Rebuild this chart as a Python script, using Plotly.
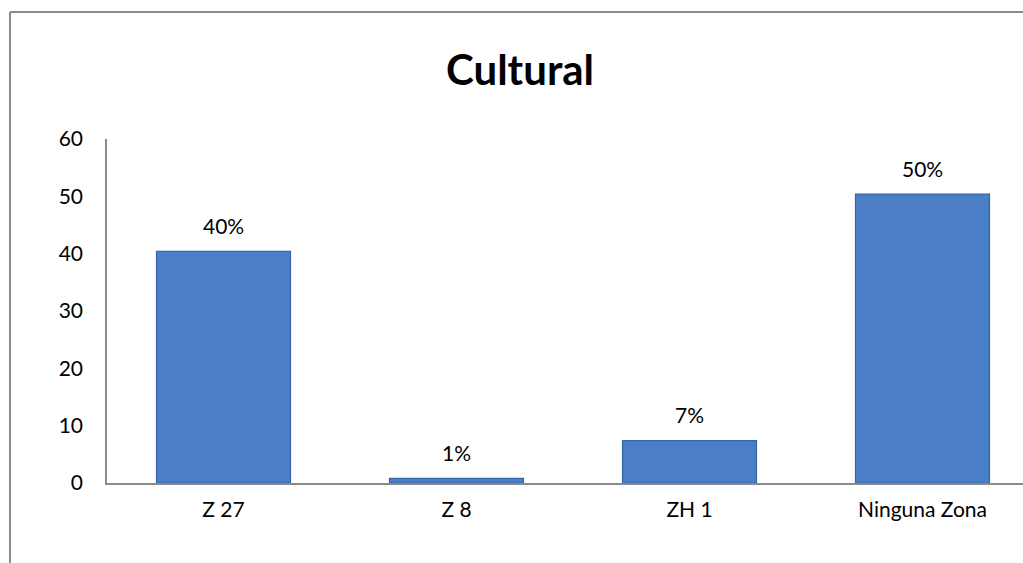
import plotly.graph_objects as go

categories = ["Z 27", "Z 8", "ZH 1", "Ninguna Zona"]
values = [40.4, 0.8, 7.4, 50.4]
labels = ["40%", "1%", "7%", "50%"]
y_ticks = [0, 10, 20, 30, 40, 50, 60]

W, H = 1023, 563
L, R, T, B = 107, 0, 139, 80
pw = W - L - R
ph = H - T - B

FONT = "Lato"
FS = 21

fig = go.Figure()
fig.add_trace(go.Bar(
    x=categories, y=values, width=0.575,
    marker=dict(color="#4A7EC6", line=dict(color="#3566A6", width=1.2)),
    hoverinfo="skip",
))

for c, v, t in zip(categories, values, labels):
    fig.add_annotation(x=c, y=v, text=t, showarrow=False, yshift=26,
                       font=dict(family=FONT, size=FS, color="#000"))

# outer chart frame (left and top edges visible)
fx0 = (10 - L) / pw
fy_top = 1 + (T - 12) / ph
fy_bot = -(B + 5) / ph
fig.add_shape(type="line", xref="paper", yref="paper", x0=fx0, x1=fx0, y0=fy_bot, y1=fy_top,
              line=dict(color="#8a8a8a", width=2))
fig.add_shape(type="line", xref="paper", yref="paper", x0=fx0, x1=(W + 5 - L) / pw, y0=fy_top, y1=fy_top,
              line=dict(color="#8a8a8a", width=2))

fig.update_layout(
    width=W, height=H,
    margin=dict(l=L, r=R, t=T, b=B, pad=0),
    paper_bgcolor="white", plot_bgcolor="white",
    showlegend=False,
    title=dict(text="<b>Cultural</b>", x=520 / W, xanchor="center", y=1 - 70 / H, yanchor="middle",
               font=dict(family=FONT, size=42, color="#000")),
    xaxis=dict(range=[-0.5, -0.5 + pw / 233.0], showgrid=False, showline=True, linecolor="#8a8a8a",
               linewidth=1.5, ticks="", ticklabelstandoff=7,
               tickfont=dict(family=FONT, size=FS, color="#000"), zeroline=False),
    yaxis=dict(range=[0, 60], tickvals=y_ticks, showgrid=False, showline=True, linecolor="#8a8a8a",
               linewidth=1.5, ticks="", ticklabelstandoff=18, zeroline=False,
               tickfont=dict(family=FONT, size=FS, color="#000")),
)

fig.write_html("out.html")
